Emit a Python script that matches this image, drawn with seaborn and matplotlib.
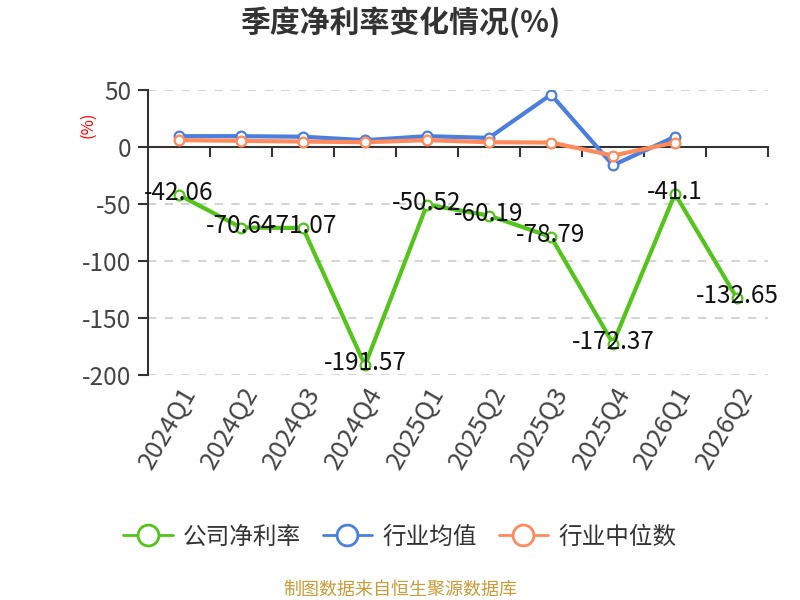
import numpy as np
import matplotlib
matplotlib.use("Agg")
import matplotlib.pyplot as plt
import matplotlib.transforms as mtransforms
from matplotlib.lines import Line2D
import seaborn as sns

# 数据
quarters = ["2024Q1", "2024Q2", "2024Q3", "2024Q4", "2025Q1",
            "2025Q2", "2025Q3", "2025Q4", "2026Q1", "2026Q2"]
company = [-42.06, -70.64, -71.07, -191.57, -50.52, -60.19, -78.79, -172.37, -41.1, -132.65]
ind_mean = [9.5, 9.5, 9.0, 6.0, 9.5, 8.0, 46.0, -16.0, 9.0]
ind_median = [6.0, 5.4, 4.8, 4.2, 6.0, 4.2, 3.9, -7.5, 3.9]
yticks = [-200, -150, -100, -50, 0, 50]

c_green = "#52c41a"
c_blue = "#4a7fe0"
c_orange = "#ff8a5c"
dark = "#333333"

sns.set_theme(style="white")
plt.rcParams["font.family"] = ["Noto Sans CJK SC", "DejaVu Sans"]
plt.rcParams["axes.unicode_minus"] = False

fig = plt.figure(figsize=(8, 6), dpi=100)
ax = fig.add_axes([148 / 800, 1 - 375 / 600, 620 / 800, 285 / 600])

x = np.arange(len(quarters))
style = dict(linewidth=3, marker="o", markersize=7, markerfacecolor="white",
             markeredgewidth=1.6)
sns.lineplot(x=x, y=company, color=c_green, markeredgecolor=c_green, ax=ax, zorder=5, **style)
sns.lineplot(x=x[:len(ind_mean)], y=ind_mean, color=c_blue, markeredgecolor=c_blue, ax=ax, zorder=3, **style)
sns.lineplot(x=x[:len(ind_median)], y=ind_median, color=c_orange, markeredgecolor=c_orange, ax=ax, zorder=4, **style)

# 数值标签
off = mtransforms.offset_copy(ax.transData, fig=fig, x=0, y=2, units="dots")
for xi, v in zip(x, company):
    ax.text(xi, v, f"{v:g}", ha="center", va="center", fontsize=17.5,
            color="#111111", transform=off, zorder=6)

ax.set_xlim(-0.5, len(quarters) - 0.5)
ax.set_ylim(-200, 50)
ax.set_yticks(yticks)
ax.set_xticks(x)
ax.set_xticklabels(quarters, rotation=60, ha="right", rotation_mode="anchor")
shift = mtransforms.ScaledTranslation(-14 / 100, 0, fig.dpi_scale_trans)
for lab in ax.get_xticklabels():
    lab.set_transform(lab.get_transform() + shift)

ax.yaxis.grid(True, linestyle=(0, (5, 5)), color="#cccccc", linewidth=1.2)
ax.yaxis.get_gridlines()[yticks.index(0)].set_visible(False)
ax.xaxis.grid(False)
for s in ["top", "right", "bottom"]:
    ax.spines[s].set_visible(False)
ax.spines["left"].set_color(dark)
ax.spines["left"].set_linewidth(1.5)

ax.tick_params(axis="y", left=True, length=7, width=1.5, color=dark,
               labelsize=17.5, labelcolor="#444444", pad=5)
ax.tick_params(axis="x", bottom=True, length=0, labelsize=18.5,
               labelcolor="#444444", pad=5.5)

# y=0 处的坐标轴
sec = ax.secondary_xaxis(0, transform=ax.transData)
sec.set_xticks(np.arange(0.5, len(quarters), 1))
sec.set_xticklabels([])
sec.tick_params(direction="out", length=7, width=1.5, color=dark)
sec.spines["bottom"].set_color(dark)
sec.spines["bottom"].set_linewidth(1.5)

# 标题与说明
fig.text(0.5, 1 - 22 / 600, "季度净利率变化情况(%)", ha="center", va="center",
         fontsize=21.5, fontweight="bold", color=dark)
fig.text(88 / 800, 1 - 125 / 600, "(%)", ha="center", va="center",
         rotation=90, color="red", fontsize=12)
fig.text(0.5, 1 - 590 / 600, "制图数据来自恒生聚源数据库", ha="center", va="center",
         fontsize=13, color="#cc9a36")

# 图例
handles = [Line2D([], [], color=c, linewidth=2, marker="o", markersize=15,
                  markerfacecolor="white", markeredgewidth=2, markeredgecolor=c)
           for c in (c_green, c_blue, c_orange)]
fig.legend(handles, ["公司净利率", "行业均值", "行业中位数"], loc="center",
           bbox_to_anchor=(0.5, 1 - 537 / 600), ncol=3, frameon=False,
           fontsize=17, handlelength=2.1, handletextpad=0.45, columnspacing=0.9,
           labelcolor=dark)

fig.savefig("out.png", dpi=100)
